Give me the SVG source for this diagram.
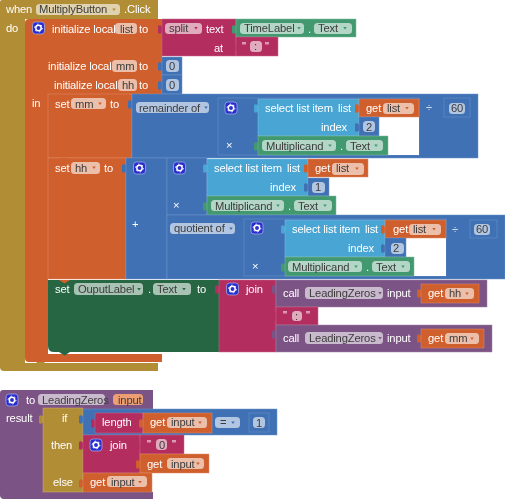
<svg xmlns="http://www.w3.org/2000/svg" xmlns:xlink="http://www.w3.org/1999/xlink" width="505" height="500" viewBox="0 0 505 500">
<style>
text{font-family:"Liberation Sans",Arial,sans-serif;font-size:11.2px;letter-spacing:-.15px}
.t{fill:#fff}
.d{fill:#3c3c3c}
.p{fill:#fff;fill-opacity:.6;rx:3.5px}
.gold{fill:#B18E35}
.or{fill:#D05F2D;stroke:#E08E68;stroke-width:.5}
.mg{fill:#B32D5E;stroke:#C96A8E;stroke-width:.5}
.gr{fill:#439970;stroke:#7CBB9C;stroke-width:.5}
.dg{fill:#266643}
.bl{fill:#3F71B5;stroke:#7097CC;stroke-width:.5}
.lb{fill:#49A6D4;stroke:#7FC0E2;stroke-width:.5}
.pu{fill:#7C5385;stroke:#A083A7;stroke-width:.5}
.w{fill:#fff}
.a{fill:#fff;fill-opacity:.75}
</style>
<defs>
<filter id="soft" x="0" y="0" width="100%" height="100%"><feGaussianBlur stdDeviation="0.3"/></filter>
<g id="gear"><rect width="12" height="12" rx="3" fill="#2A2FCF" stroke="#A9B4EA" stroke-width=".7"/><circle cx="6" cy="6" r="2.7" fill="none" stroke="#fff" stroke-width="1.5"/><circle cx="6" cy="6" r="3.9" fill="none" stroke="#fff" stroke-width="1" stroke-dasharray="1.4 2.7"/></g>
<path id="ar" d="M-1.8-1.1H1.8L0 1.4Z"/>
<path id="tab" d="M0 0V2.5Q-3-0-4 2.5V8.5Q-3 11 0 8.5V11Z"/>
</defs>
<rect width="505" height="500" fill="#fff"/>
<g filter="url(#soft)">
<g id="event-click">
<path class="gold" d="M0 2Q0 0 2 0H158V19H25V363H158V371H4Q0 371 0 367Z"/>
<rect class="w" x="25" y="352" width="7" height="11"/>
<rect class="p" x="36" y="4" width="84" height="11"/>
<text class="t" x="6" y="13">when</text><text class="d" x="39" y="13">MultiplyButton</text><use xlink:href="#ar" x="114" y="9.5" fill="#B18E35"/><text class="t" x="124" y="13">.Click</text>
<text class="t" x="6" y="32">do</text>
</g>
<g id="init-local">
<path fill="#D05F2D" d="M25 23Q25 19 29 19H162V94H48V354H162V362H29Q25 362 25 358Z"/>
<path class="gold" d="M36 362H45L41 366Z"/>
<use xlink:href="#gear" x="32.500" y="22"/>
<text class="t" x="52" y="33">initialize local</text><rect class="p" x="115" y="23" width="22" height="11"/><text class="d" x="120" y="32.500">list</text><text class="t" x="139" y="33">to</text>
<text class="t" x="48" y="70">initialize local</text><rect class="p" x="112" y="60" width="25" height="12"/><text class="d" x="116" y="70">mm</text><text class="t" x="139" y="70">to</text>
<text class="t" x="54" y="89">initialize local</text><rect class="p" x="118" y="79" width="19" height="12"/><text class="d" x="122" y="89">hh</text><text class="t" x="139" y="89">to</text>
<text class="t" x="32" y="107">in</text>
</g>
<g id="split">
<use xlink:href="#tab" x="162" y="24" fill="#B32D5E"/><rect class="mg" x="162" y="19" width="74" height="37"/>
<rect class="p" x="165" y="23" width="37" height="11"/><text class="d" x="169" y="32">split</text><use xlink:href="#ar" x="196" y="28" fill="#B32D5E"/>
<text class="t" x="206" y="33">text</text><text class="t" x="214" y="52">at</text>
</g>
<g id="timelabel-text">
<use xlink:href="#tab" x="236" y="24" fill="#439970"/><rect class="gr" x="236" y="19" width="120" height="18"/>
<rect class="p" x="240" y="23" width="64" height="11"/><text class="d" x="244" y="32">TimeLabel</text><use xlink:href="#ar" x="299" y="28" fill="#439970"/><text class="t" x="308" y="33">.</text>
<rect class="p" x="314" y="23" width="38" height="11"/><text class="d" x="318" y="32">Text</text><use xlink:href="#ar" x="345" y="28" fill="#439970"/>
</g>
<g id="text-colon">
<use xlink:href="#tab" x="236" y="42" fill="#B32D5E"/><rect class="mg" x="236" y="37" width="42" height="19"/>
<text class="t" x="242" y="50">"</text><rect class="p" x="250" y="41" width="12" height="11"/><text class="d" x="254" y="50">:</text><text class="t" x="265" y="50">"</text>
</g>
<g id="number-mm"><use xlink:href="#tab" x="162" y="61" fill="#3F71B5"/><rect class="bl" x="162" y="57" width="20" height="18"/><rect class="p" x="166" y="60" width="13" height="12"/><text class="d" x="169" y="70">0</text></g>
<g id="number-hh"><use xlink:href="#tab" x="162" y="80" fill="#3F71B5"/><rect class="bl" x="162" y="75" width="20" height="19"/><rect class="p" x="166" y="79" width="13" height="12"/><text class="d" x="169" y="89">0</text></g>

<g id="set-mm">
<rect class="or" x="48" y="94" width="84" height="64"/>
<text class="t" x="55" y="108">set</text><rect class="p" x="71" y="98" width="35" height="11"/><text class="d" x="75" y="107.500">mm</text><use xlink:href="#ar" x="100" y="103.500" fill="#D05F2D"/><text class="t" x="110" y="108">to</text>
</g>
<g id="remainder">
<use xlink:href="#tab" x="132" y="99" fill="#3F71B5"/><rect class="bl" x="132" y="94" width="346" height="64"/>
<rect class="p" x="136" y="102" width="73" height="11"/><text class="d" x="139" y="111.500">remainder of</text><use xlink:href="#ar" x="206" y="107.500" fill="#3F71B5"/>
</g>
<g id="product-1">
<rect class="bl" x="218" y="98" width="201" height="57"/>
<rect class="w" x="379" y="117" width="40" height="38"/>
<use xlink:href="#gear" x="225" y="102"/><text class="t" x="226" y="149">×</text>
</g>
<g id="select-1">
<use xlink:href="#tab" x="258" y="103" fill="#49A6D4"/><rect class="lb" x="258" y="99" width="101" height="37"/>
<text class="t" x="265" y="112">select list item</text><text class="t" x="338" y="112">list</text><text class="t" x="321" y="131">index</text>
</g>
<g id="get-list-1"><use xlink:href="#tab" x="359" y="103" fill="#D05F2D"/><rect class="or" x="359" y="99" width="60" height="18"/><text class="t" x="366" y="112">get</text><rect class="p" x="383" y="103" width="31" height="11"/><text class="d" x="387" y="112">list</text><use xlink:href="#ar" x="407" y="108" fill="#D05F2D"/></g>
<g id="number-2a"><use xlink:href="#tab" x="359" y="122" fill="#3F71B5"/><rect class="bl" x="359" y="117" width="20" height="19"/><rect class="p" x="363" y="121" width="12" height="11"/><text class="d" x="366" y="130.500">2</text></g>
<g id="multiplicand-1"><use xlink:href="#tab" x="258" y="141" fill="#439970"/><rect class="gr" x="258" y="136" width="130" height="19"/><rect class="p" x="262" y="140" width="74" height="11"/><text class="d" x="266" y="149.500">Multiplicand</text><use xlink:href="#ar" x="330" y="145.500" fill="#439970"/><text class="t" x="340" y="150">.</text><rect class="p" x="346" y="140" width="37" height="11"/><text class="d" x="350" y="149.500">Text</text><use xlink:href="#ar" x="376" y="145.500" fill="#439970"/></g>
<g id="number-60a"><text class="a" x="426" y="111">÷</text><rect class="bl" x="444" y="98" width="26" height="19"/><rect class="p" x="449" y="103" width="16" height="11"/><text class="d" x="451" y="112">60</text></g>

<g id="set-hh">
<rect class="or" x="48" y="158" width="78" height="121"/>
<path fill="#D05F2D" d="M59 158H69L64 161.500Z"/>
<text class="t" x="55" y="172">set</text><rect class="p" x="71" y="162" width="29" height="12"/><text class="d" x="75" y="171.500">hh</text><use xlink:href="#ar" x="94" y="167.500" fill="#D05F2D"/><text class="t" x="104" y="172">to</text>
</g>
<g id="add">
<use xlink:href="#tab" x="126" y="163" fill="#3F71B5"/><rect class="bl" x="126" y="158" width="41" height="121"/>
<use xlink:href="#gear" x="133.500" y="162"/><text class="t" x="132" y="228">+</text>
</g>
<g id="product-2"><rect class="bl" x="167" y="158" width="40" height="57"/><use xlink:href="#gear" x="173.500" y="162"/><text class="t" x="173" y="209">×</text></g>
<g id="select-2">
<use xlink:href="#tab" x="207" y="163" fill="#49A6D4"/><rect class="lb" x="207" y="159" width="101" height="37"/>
<text class="t" x="214" y="172">select list item</text><text class="t" x="287" y="172">list</text><text class="t" x="270" y="191">index</text>
</g>
<g id="get-list-2"><use xlink:href="#tab" x="308" y="163" fill="#D05F2D"/><rect class="or" x="308" y="159" width="60" height="18"/><text class="t" x="315" y="172">get</text><rect class="p" x="332" y="163" width="32" height="12"/><text class="d" x="336" y="172">list</text><use xlink:href="#ar" x="357" y="168.500" fill="#D05F2D"/></g>
<g id="number-1a"><use xlink:href="#tab" x="308" y="182" fill="#3F71B5"/><rect class="bl" x="308" y="178" width="21" height="18"/><rect class="p" x="312" y="182" width="13" height="11"/><text class="d" x="315" y="191">1</text></g>
<g id="multiplicand-2"><use xlink:href="#tab" x="207" y="201" fill="#439970"/><rect class="gr" x="207" y="196" width="129" height="19"/><rect class="p" x="211" y="200" width="73" height="11"/><text class="d" x="215" y="209.500">Multiplicand</text><use xlink:href="#ar" x="278" y="205.500" fill="#439970"/><text class="t" x="288" y="210">.</text><rect class="p" x="294" y="200" width="38" height="11"/><text class="d" x="298" y="209.500">Text</text><use xlink:href="#ar" x="325" y="205.500" fill="#439970"/></g>
<g id="quotient"><rect class="bl" x="167" y="215" width="338" height="64"/><rect class="p" x="170" y="223" width="65" height="11"/><text class="d" x="174" y="232">quotient of</text><use xlink:href="#ar" x="231" y="228.500" fill="#3F71B5"/></g>
<g id="product-3"><rect class="bl" x="244" y="219" width="202" height="57"/><rect class="w" x="406" y="238" width="40" height="38"/><use xlink:href="#gear" x="251" y="222"/><text class="t" x="252" y="270">×</text></g>
<g id="select-3">
<use xlink:href="#tab" x="285" y="224" fill="#49A6D4"/><rect class="lb" x="285" y="220" width="100" height="37"/>
<text class="t" x="292" y="233">select list item</text><text class="t" x="365" y="233">list</text><text class="t" x="348" y="252">index</text>
</g>
<g id="get-list-3"><use xlink:href="#tab" x="385" y="224" fill="#D05F2D"/><rect class="or" x="385" y="220" width="61" height="18"/><text class="t" x="393" y="233">get</text><rect class="p" x="409" y="224" width="32" height="11"/><text class="d" x="413" y="233">list</text><use xlink:href="#ar" x="434" y="229" fill="#D05F2D"/></g>
<g id="number-2b"><use xlink:href="#tab" x="385" y="243" fill="#3F71B5"/><rect class="bl" x="385" y="238" width="21" height="19"/><rect class="p" x="391" y="243" width="13" height="11"/><text class="d" x="393" y="252">2</text></g>
<g id="multiplicand-3"><use xlink:href="#tab" x="285" y="262" fill="#439970"/><rect class="gr" x="285" y="257" width="129" height="19"/><rect class="p" x="288" y="261" width="74" height="11"/><text class="d" x="292" y="270.500">Multiplicand</text><use xlink:href="#ar" x="356" y="266.500" fill="#439970"/><text class="t" x="366" y="271">.</text><rect class="p" x="372" y="261" width="38" height="11"/><text class="d" x="376" y="270.500">Text</text><use xlink:href="#ar" x="403" y="266.500" fill="#439970"/></g>
<g id="number-60b"><text class="a" x="452" y="233">÷</text><rect class="bl" x="470" y="220" width="27" height="18"/><rect class="p" x="474" y="224" width="16" height="11"/><text class="d" x="476" y="233">60</text></g>

<g id="set-ouput">
<rect class="w" x="48" y="347" width="8" height="7"/>
<path class="dg" d="M48 280H219V352H54Q48 352 48 346Z"/>
<path class="dg" d="M59 352H70L64.500 355.500Z"/>
<path fill="#D05F2D" d="M59 280H70L64.500 283.500Z"/>
<text class="t" x="55" y="293">set</text><rect class="p" x="74" y="283" width="69" height="12"/><text class="d" x="78" y="293">OuputLabel</text><use xlink:href="#ar" x="139" y="289" fill="#266643"/><text class="t" x="148" y="293">.</text><rect class="p" x="153" y="283" width="38" height="12"/><text class="d" x="157" y="293">Text</text><use xlink:href="#ar" x="184" y="289" fill="#266643"/><text class="t" x="197" y="293">to</text>
</g>
<g id="join-1"><use xlink:href="#tab" x="219" y="284" fill="#B32D5E"/><rect class="mg" x="219" y="280" width="57" height="72"/><use xlink:href="#gear" x="226.500" y="283"/><text class="t" x="246" y="293">join</text></g>
<g id="call-hh"><use xlink:href="#tab" x="276" y="284" fill="#7C5385"/><rect class="pu" x="276" y="280" width="211" height="27"/><text class="t" x="283" y="297">call</text><rect class="p" x="305" y="287" width="78" height="12"/><text class="d" x="309" y="297">LeadingZeros</text><use xlink:href="#ar" x="380" y="293" fill="#7C5385"/><text class="t" x="387" y="297">input</text></g>
<g id="get-hh"><use xlink:href="#tab" x="421" y="288" fill="#D05F2D"/><rect class="or" x="421" y="284" width="58" height="19"/><text class="t" x="428" y="297">get</text><rect class="p" x="445" y="288" width="29" height="11"/><text class="d" x="449" y="297">hh</text><use xlink:href="#ar" x="467" y="293.500" fill="#D05F2D"/></g>
<g id="text-colon-2"><use xlink:href="#tab" x="276" y="311" fill="#B32D5E"/><rect class="mg" x="276" y="307" width="42" height="18"/><text class="t" x="283" y="319">"</text><rect class="p" x="292" y="311" width="10" height="10"/><text class="d" x="295" y="320">:</text><text class="t" x="306" y="319">"</text></g>
<g id="call-mm"><use xlink:href="#tab" x="276" y="329" fill="#7C5385"/><rect class="pu" x="276" y="325" width="216" height="27"/><text class="t" x="283" y="342">call</text><rect class="p" x="305" y="332" width="78" height="12"/><text class="d" x="309" y="342">LeadingZeros</text><use xlink:href="#ar" x="380" y="338" fill="#7C5385"/><text class="t" x="387" y="342">input</text></g>
<g id="get-mm"><use xlink:href="#tab" x="421" y="333" fill="#D05F2D"/><rect class="or" x="421" y="329" width="63" height="19"/><text class="t" x="428" y="342">get</text><rect class="p" x="445" y="333" width="34" height="11"/><text class="d" x="449" y="342">mm</text><use xlink:href="#ar" x="472" y="338.500" fill="#D05F2D"/></g>

<g id="procedure">
<path fill="#7C5385" d="M0 393Q0 390 3 390H153V409H43V492H153V499H4Q0 499 0 495Z"/>
<use xlink:href="#gear" x="6" y="394"/><text class="t" x="26" y="404">to</text><rect class="p" x="38" y="394" width="67" height="11"/><text class="d" x="42" y="403.500">LeadingZeros</text><rect x="113" y="394" width="30" height="11" rx="3.5" fill="#EE9E73"/><text class="d" x="118" y="403.500">input</text>
<text class="t" x="6" y="422">result</text>
</g>
<g id="if">
<use xlink:href="#tab" x="43" y="414" fill="#B18E35"/><rect x="43" y="408" width="40" height="84" fill="#B18E35" stroke="#CDB374" stroke-width=".5"/>
<text class="t" x="62" y="422">if</text><text class="t" x="51" y="449">then</text><text class="t" x="53" y="486">else</text>
</g>
<g id="equals"><use xlink:href="#tab" x="83" y="414" fill="#3F71B5"/><rect class="bl" x="83" y="409" width="194" height="26"/><rect class="p" x="215" y="417" width="25" height="11"/><text class="d" x="220" y="426">=</text><use xlink:href="#ar" x="233" y="422.500" fill="#3F71B5"/></g>
<g id="length"><use xlink:href="#tab" x="95" y="418" fill="#B32D5E"/><rect class="mg" x="95" y="413" width="48" height="20"/><text class="t" x="102" y="426">length</text></g>
<g id="get-input-1"><use xlink:href="#tab" x="143" y="418" fill="#D05F2D"/><rect class="or" x="143" y="413" width="69" height="20"/><text class="t" x="150" y="426">get</text><rect class="p" x="167" y="417" width="40" height="11"/><text class="d" x="171" y="426">input</text><use xlink:href="#ar" x="200" y="422.500" fill="#D05F2D"/></g>
<g id="number-1b"><rect class="bl" x="249" y="413" width="20" height="19"/><rect class="p" x="253" y="417" width="12" height="11"/><text class="d" x="256" y="426.500">1</text></g>
<g id="join-2"><use xlink:href="#tab" x="83" y="440" fill="#B32D5E"/><rect class="mg" x="83" y="435" width="57" height="38"/><use xlink:href="#gear" x="90" y="439"/><text class="t" x="110" y="449">join</text></g>
<g id="text-zero"><use xlink:href="#tab" x="140" y="440" fill="#B32D5E"/><rect class="mg" x="140" y="435" width="44" height="19"/><text class="t" x="147" y="448">"</text><rect class="p" x="156" y="439" width="11" height="11"/><text class="d" x="159" y="448.500">0</text><text class="t" x="172" y="448">"</text></g>
<g id="get-input-2"><use xlink:href="#tab" x="140" y="459" fill="#D05F2D"/><rect class="or" x="140" y="454" width="69" height="19"/><text class="t" x="147" y="468">get</text><rect class="p" x="167" y="458" width="37" height="11"/><text class="d" x="171" y="467.500">input</text><use xlink:href="#ar" x="198" y="463.500" fill="#D05F2D"/></g>
<g id="get-input-3"><use xlink:href="#tab" x="83" y="478" fill="#D05F2D"/><rect class="or" x="83" y="473" width="69" height="19"/><text class="t" x="90" y="486">get</text><rect class="p" x="107" y="476" width="40" height="11"/><text class="d" x="111" y="485.500">input</text><use xlink:href="#ar" x="140" y="482" fill="#D05F2D"/></g>
</g>
</svg>
